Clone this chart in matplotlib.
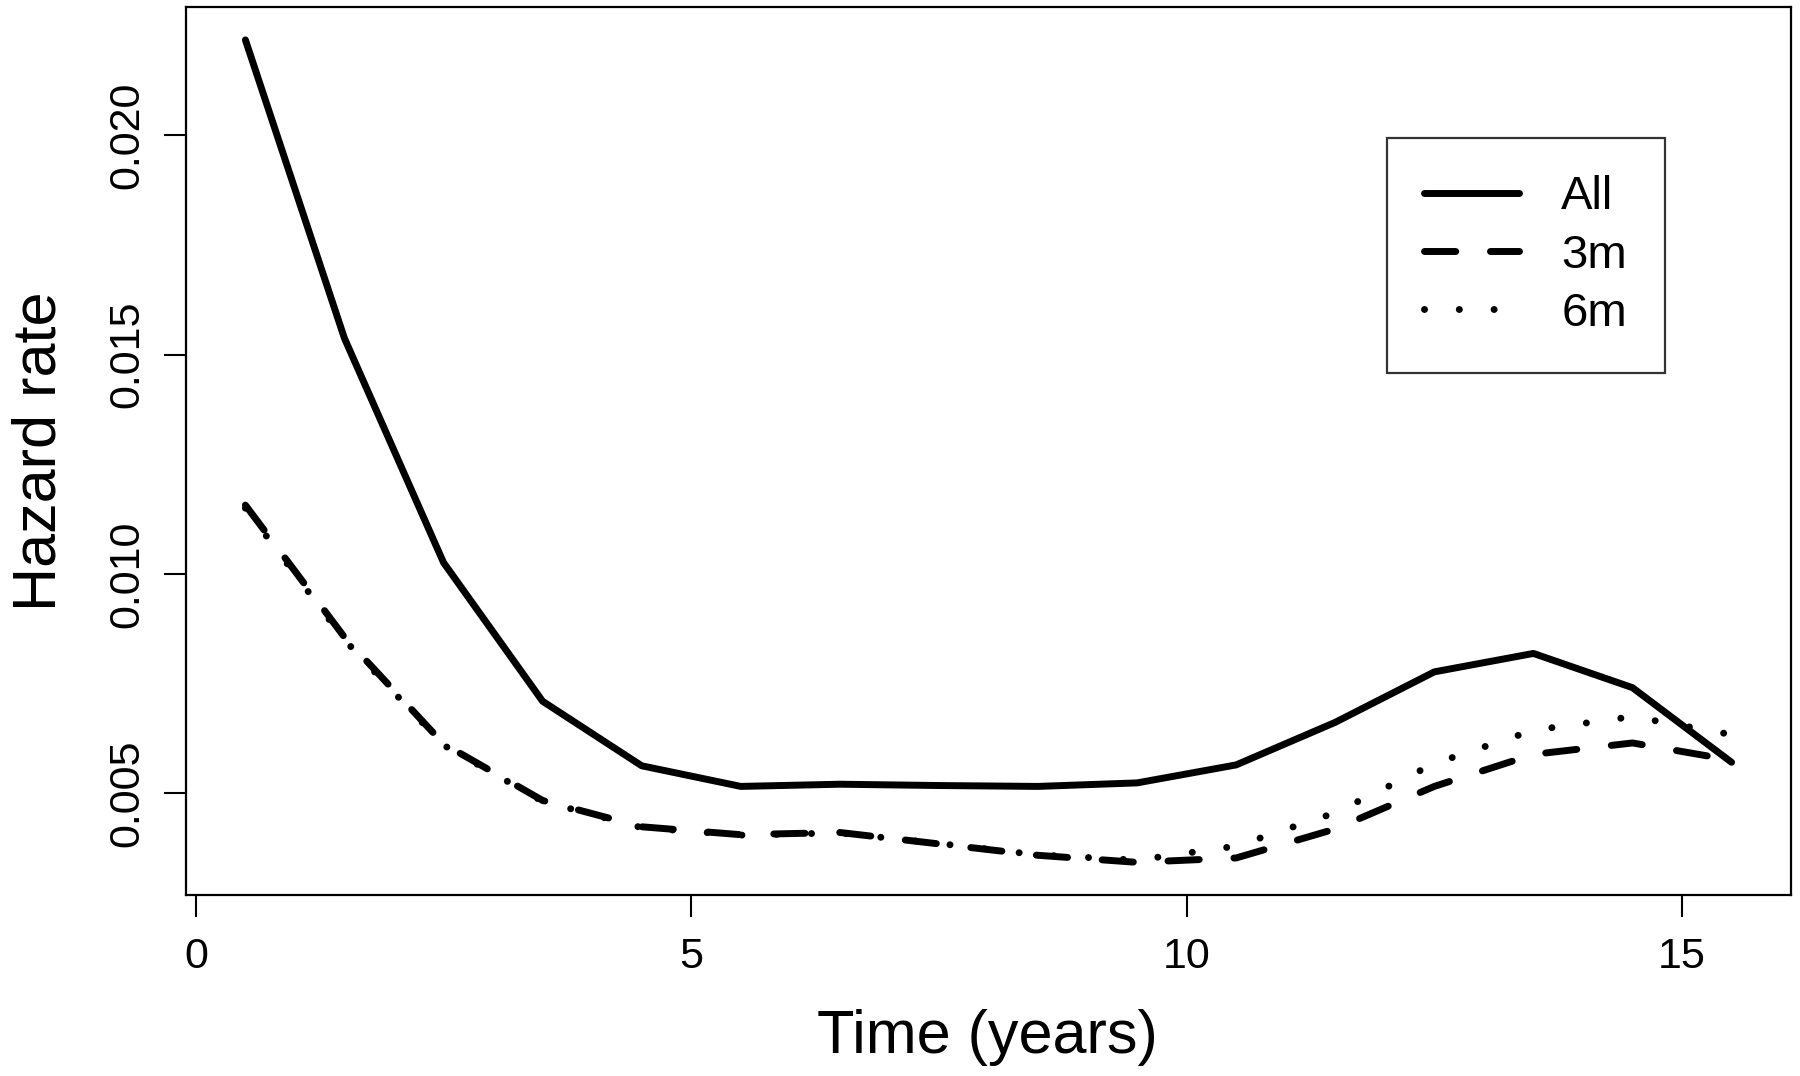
import matplotlib
matplotlib.use("Agg")
import matplotlib.pyplot as plt

plt.rcParams['font.family'] = ['Liberation Sans', 'DejaVu Sans']

time = [0.5, 1.5, 2.5, 3.5, 4.5, 5.5, 6.5, 7.5, 8.5, 9.5, 10.5, 11.5, 12.5, 13.5, 14.5, 15.5]
hz_all = [0.02217, 0.01537, 0.01026, 0.00710, 0.00563, 0.00516, 0.00521, 0.00518, 0.00516,
          0.00524, 0.00565, 0.00662, 0.00777, 0.00819, 0.00741, 0.00571]
hz_3m = [0.01157, 0.00856, 0.00613, 0.00484, 0.00424, 0.00406, 0.00411, 0.00385, 0.00359,
         0.00343, 0.00353, 0.00419, 0.00516, 0.00589, 0.00615, 0.00576]
hz_6m = [0.01150, 0.00850, 0.00610, 0.00482, 0.00422, 0.00405, 0.00410, 0.00386, 0.00360,
         0.00348, 0.00380, 0.00456, 0.00568, 0.00644, 0.00675, 0.00634]
labels = ["All", "3m", "6m"]
xticks = [0, 5, 10, 15]
yticks = [0.005, 0.010, 0.015, 0.020]

fig = plt.figure(figsize=(18, 10.76), dpi=100)
ax = fig.add_axes([0.1033, 0.168, 0.8917, 0.8255])

lw = 5.0
ax.plot(time, hz_all, color='black', lw=lw, solid_capstyle='round', solid_joinstyle='round', label=labels[0])
ax.plot(time, hz_3m, color='black', lw=lw, linestyle=(0, (4.5, 5.0)), dash_capstyle='round', label=labels[1])
ax.plot(time, hz_6m, color='black', lw=lw, linestyle=(0, (0.01, 5.0)), dash_capstyle='round', label=labels[2])

xmin, xmax = min(time), max(time)
allv = hz_all + hz_3m + hz_6m
ymin, ymax = min(allv), max(allv)
ax.set_xlim(xmin - 0.04 * (xmax - xmin), xmax + 0.04 * (xmax - xmin))
ax.set_ylim(ymin - 0.04 * (ymax - ymin), ymax + 0.04 * (ymax - ymin))

ax.set_xticks(xticks)
ax.set_xticklabels([str(t) for t in xticks])
ax.set_yticks(yticks)
ax.set_yticklabels([f"{t:.3f}" for t in yticks], rotation=90, va='center')
ax.tick_params(axis='both', direction='out', length=16, width=1.5, labelsize=31, color='black')
ax.tick_params(axis='x', pad=14)
ax.tick_params(axis='y', pad=12)
for s in ax.spines.values():
    s.set_linewidth(1.6)
    s.set_color('black')

fig.text(0.022, 0.581, "Hazard rate", rotation=90, ha='center', va='center', fontsize=44)
fig.text(0.5488, 0.036, "Time (years)", ha='center', va='center', fontsize=44)

leg = ax.legend(loc='upper left', bbox_to_anchor=(0.748, 0.853), fontsize=34, frameon=True,
                fancybox=False, edgecolor='black', handlelength=2.0, handletextpad=0.9,
                borderpad=0.8, labelspacing=0.3, borderaxespad=0)
leg.get_frame().set_linewidth(1.6)

fig.savefig("out.png", dpi=100)
